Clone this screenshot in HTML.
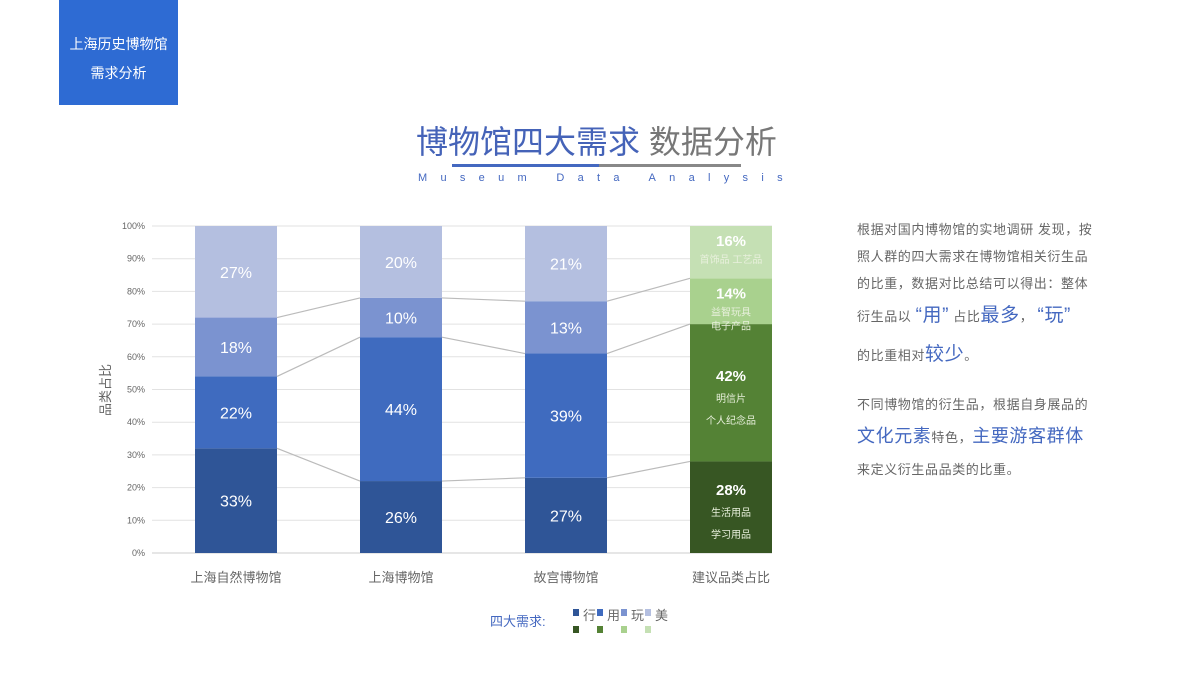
<!DOCTYPE html>
<html><head><meta charset="utf-8">
<style>
body{margin:0;width:1200px;height:700px;background:#fff;overflow:hidden;position:relative;font-family:"Liberation Sans","Noto Sans CJK SC",sans-serif}
.abs{position:absolute}
.txt p{margin:0;white-space:nowrap}
</style></head>
<body>
<div class="abs" style="left:59px;top:0;width:119px;height:105px;background:#2e6bd3;color:#fff;font-size:14px;line-height:29px;text-align:center;padding-top:30px;box-sizing:border-box">上海历史博物馆<br>需求分析</div>
<div class="abs" style="left:416px;top:117px;font-size:32px;white-space:nowrap;letter-spacing:0px"><span style="color:#4563b8">博物馆四大需求</span> <span style="color:#777">数据分析</span></div>
<div class="abs" style="left:452px;top:164px;width:147px;height:3px;background:#4468c0"></div>
<div class="abs" style="left:599px;top:164px;width:142px;height:3px;background:#888"></div>
<div class="abs" style="left:418px;top:172px;font-size:11px;color:#4468c0;letter-spacing:13.3px;white-space:nowrap">Museum Data Analysis</div>

<svg id="chart" class="abs" style="left:0;top:0" width="1200" height="700"></svg>

<div class="abs txt" style="left:857px;top:216px;width:280px;font-size:13px;color:#666;line-height:27px;letter-spacing:0.6px">
<p>根据对国内博物馆的实地调研 发现，按</p>
<p>照人群的四大需求在博物馆相关衍生品</p>
<p>的比重，数据对比总结可以得出：整体</p>
<p style="line-height:38px">衍生品以 <span style="color:#4468c0;font-size:19px">“用”</span> 占比<span style="color:#4468c0;font-size:19px">最多</span>， <span style="color:#4468c0;font-size:19px">“玩”</span></p>
<p style="line-height:38px">的比重相对<span style="color:#4468c0;font-size:19px">较少</span>。</p>
<p style="margin-top:16px">不同博物馆的衍生品，根据自身展品的</p>
<p style="line-height:36px"><span style="color:#4468c0;font-size:18px">文化元素</span>特色，<span style="color:#4468c0;font-size:18px">主要游客群体</span></p>
<p>来定义衍生品品类的比重。</p>
</div>

<script>
const categories=["上海自然博物馆","上海博物馆","故宫博物馆","建议品类占比"];
const seriesNames=["行","用","玩","美"];
const xing=[32,22,23,28];
const yong=[22,44,38,42];
const wan=[18,12,16,14];
const mei=[28,22,23,16];
const xingLabels=["33%","26%","27%","28%"];
const yongLabels=["22%","44%","39%","42%"];
const wanLabels=["18%","10%","13%","14%"];
const meiLabels=["27%","20%","21%","16%"];
const yTicks=[0,10,20,30,40,50,60,70,80,90,100];
const greenNotes=[["生活用品","学习用品"],["明信片","个人纪念品"],["益智玩具","电子产品"],["首饰品 工艺品"]];

const NS="http://www.w3.org/2000/svg";
const svg=document.getElementById('chart');
const X0=152,X1=772,Y0=553,Y1=226,BW=82;
const y=v=>Y0-(Y0-Y1)*v/100;
const xc=i=>236+i*165;
const blue=["#2f5597","#3f6bbf","#7b93d0","#b4bfe0"];
const green=["#375623","#548235","#a9d18e","#c5e0b4"];
function mk(tag,attrs,text){const e=document.createElementNS(NS,tag);for(const k in attrs)e.setAttribute(k,attrs[k]);if(text!==undefined)e.textContent=text;svg.appendChild(e);return e;}
yTicks.forEach(t=>{
 const g=mk('line',{x1:X0,x2:X1,y1:y(t),y2:y(t),stroke:t===0?'#ccc':'#e2e2e2','stroke-width':1});
 
 
 const l=mk('text',{x:145,y:y(t)+3,'text-anchor':'end','font-size':9,fill:'#666'},t+'%');
 
 
});
const yt=mk('text',{x:110,y:390,'text-anchor':'middle','font-size':13,fill:'#666',transform:'rotate(-90 110 390)'},'品类占比');


const series=[xing,yong,wan,mei];
const labels=[xingLabels,yongLabels,wanLabels,meiLabels];
for(let i=0;i<categories.length-1;i++){
 let a=0,b=0;
 for(let s=0;s<3;s++){a+=series[s][i];b+=series[s][i+1];
  const c=mk('line',{x1:xc(i)+BW/2,y1:y(a),x2:xc(i+1)-BW/2,y2:y(b),stroke:'#bbb','stroke-width':1.2});
  
  
 }
}
categories.forEach((cat,i)=>{
 let acc=0;
 const last=i===categories.length-1;
 series.forEach((arr,s)=>{
  const v=arr[i];
  const r=mk('rect',{x:xc(i)-BW/2,y:y(acc+v),width:BW,height:y(acc)-y(acc+v),fill:last?green[s]:blue[s]});
  
  
  const mid=(y(acc)+y(acc+v))/2;
  const lab=labels[s][i];
  if(!last){
   const t=mk('text',{x:xc(i),y:mid+6,'text-anchor':'middle','font-size':16,fill:'#fff'},lab);
   
   
  }else{
   const notes=greenNotes[s];
   const top=y(acc+v);
   let ty = s>=2 ? top+20 : mid-12;
   const t=mk('text',{x:xc(i),y:ty,'text-anchor':'middle','font-size':15,'font-weight':'bold',fill:'#fff'},lab);
   
   
   notes.forEach((n,k)=>{
    const nt=mk('text',{x:xc(i),y:ty+(s>=2?17:21)+k*(s>=2?14:22),'text-anchor':'middle','font-size':10,fill:'#e8f0dc'},n);
    
    
   });
  }
  acc+=v;
 });
 const xl=mk('text',{x:xc(i),y:582,'text-anchor':'middle','font-size':13,fill:'#666'},cat);
 
 
});
const lt=mk('text',{x:490,y:626,'font-size':13,fill:'#4468c0'},'四大需求:');


seriesNames.forEach((n,s)=>{
 const lx=573+s*24;
 const b=mk('rect',{x:lx,y:609,width:6,height:7,fill:blue[s]});
 
 
 const g=mk('rect',{x:lx,y:626,width:6,height:7,fill:green[s]});
 
 
 const t=mk('text',{x:lx+10,y:620,'font-size':13,fill:'#666'},n);
 
 
});
</script>
</body></html>
